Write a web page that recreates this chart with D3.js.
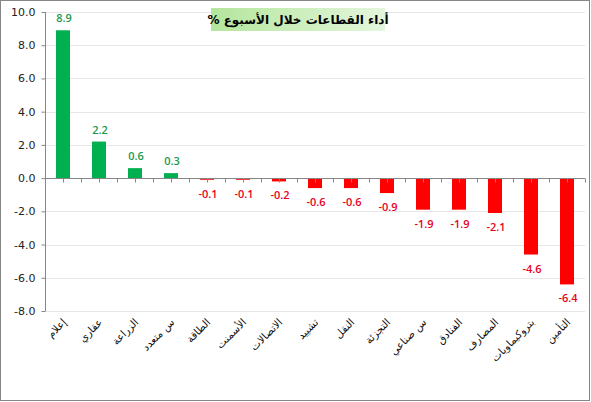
<!DOCTYPE html>
<html>
<head>
<meta charset="utf-8">
<script src="https://cdn.jsdelivr.net/npm/d3@7"></script>
<style>
  body { margin: 0; background: #fff; }
  svg { display: block; }
</style>
</head>
<body>
<svg id="chart" width="591" height="402"></svg>
<script>
var sectors = ["إعلام", "عقاري", "الزراعة", "س متعدد", "الطاقة", "الأسمنت", "الاتصالات", "تشييد",
  "النقل", "التجزئة", "س صناعي", "الفنادق", "المصارف", "بتروكيماويات", "التأمين"];
var changes = [8.9, 2.2, 0.6, 0.3, -0.1, -0.1, -0.2, -0.6, -0.6, -0.9, -1.9, -1.9, -2.1, -4.6, -6.4];
var yTicks = [10, 8, 6, 4, 2, 0, -2, -4, -6, -8];
var title = "أداء القطاعات خلال الأسبوع %";

var svg = d3.select("#chart"),
  margin = { top: 12, right: 6, bottom: 91, left: 45 },
  width = +svg.attr("width") - margin.left - margin.right,
  height = +svg.attr("height") - margin.top - margin.bottom;

// hyphen minus like the original, not the unicode minus
var fmt = function(d) { return d3.format(".1f")(d).replace("\u2212", "-"); };

// outer frame
svg.append("rect")
  .attr("x", 0.5).attr("y", 0.5)
  .attr("width", 589).attr("height", 400)
  .attr("fill", "#fff").attr("stroke", "#868686");

var x = d3.scaleBand().domain(sectors).range([0, width]),
  y = d3.scaleLinear().domain([-8, 10]).range([height, 0]);

var g = svg.append("g")
  .attr("transform", "translate(" + margin.left + "," + margin.top + ")");

// grid
g.selectAll(".grid")
  .data(yTicks)
  .enter().append("line")
  .attr("x1", 0).attr("x2", width)
  .attr("y1", function(d) { return Math.round(y(d)) + 0.5; })
  .attr("y2", function(d) { return Math.round(y(d)) + 0.5; })
  .attr("stroke", "#e6e6e6");

// y axis
var yAxis = d3.axisLeft(y).tickValues(yTicks).tickSize(4).tickFormat(fmt);
var ya = g.append("g").attr("transform", "translate(0.5,0)").call(yAxis);
ya.select(".domain").attr("stroke", "#868686").attr("d", "M0," + y(10) + "V" + y(-8));
ya.selectAll(".tick line").attr("stroke", "#868686");
ya.selectAll(".tick text")
  .attr("x", -10)
  .attr("fill", "#222")
  .style("font-family", "Tahoma, 'DejaVu Sans', sans-serif")
  .style("font-size", "11px");

// bars
g.selectAll(".bar")
  .data(changes)
  .enter().append("rect")
  .attr("x", function(d, i) { return x(sectors[i]) + x.bandwidth() / 2 - 7; })
  .attr("width", 14)
  .attr("y", function(d) { return y(Math.max(0, d)); })
  .attr("height", function(d) { return Math.max(1.5, Math.abs(y(d) - y(0))); })
  .attr("fill", function(d) { return d >= 0 ? "#00b050" : "#ff0000"; });

// zero line with ticks at centres and boundaries
var y0 = Math.round(y(0)) + 0.5;
g.append("line")
  .attr("x1", 0).attr("x2", width)
  .attr("y1", y0).attr("y2", y0)
  .attr("stroke", "#868686");
var tickXs = [];
sectors.forEach(function(s) {
  tickXs.push(x(s) + x.bandwidth() / 2);
  tickXs.push(x(s) + x.bandwidth());
});
g.selectAll(".xtick")
  .data(tickXs)
  .enter().append("line")
  .attr("x1", function(d) { return Math.round(d) + 0.5; })
  .attr("x2", function(d) { return Math.round(d) + 0.5; })
  .attr("y1", y0).attr("y2", y0 + 4)
  .attr("stroke", "#868686");

// value labels
g.selectAll(".val")
  .data(changes)
  .enter().append("text")
  .attr("x", function(d, i) { return x(sectors[i]) + x.bandwidth() / 2 + 1; })
  .attr("y", function(d) { return d >= 0 ? y(d) - 8 : y(d) + 18; })
  .attr("text-anchor", "middle")
  .attr("fill", function(d) { return d >= 0 ? "#1a9a4c" : "#e8001c"; })
  .style("font-family", "'Open Sans', 'DejaVu Sans', sans-serif")
  .style("font-size", "11px")
  .style("font-weight", "600")
  .text(fmt);

// category labels
g.selectAll(".cat")
  .data(sectors)
  .enter().append("text")
  .attr("transform", function(d) {
    return "translate(" + (x(d) + x.bandwidth() / 2 + 4) + "," + (height + 12) + ") rotate(-45)";
  })
  .attr("text-anchor", "end")
  .attr("fill", "#111")
  .style("font-family", "'DejaVu Sans', sans-serif")
  .style("font-size", "10.5px")
  .text(function(d) { return d; });

// title box
var grad = svg.append("defs").append("linearGradient").attr("id", "tg");
grad.append("stop").attr("offset", "0%").attr("stop-color", "#b4e69c");
grad.append("stop").attr("offset", "100%").attr("stop-color", "#e4f6dc");
svg.append("rect")
  .attr("x", 211).attr("y", 8)
  .attr("width", 174).attr("height", 23)
  .attr("fill", "url(#tg)");
svg.append("text")
  .attr("x", 298).attr("y", 24)
  .attr("text-anchor", "middle")
  .attr("direction", "rtl")
  .attr("fill", "#000")
  .style("font-family", "'DejaVu Sans', sans-serif")
  .style("font-size", "12px")
  .style("font-weight", "bold")
  .text(title);
</script>
</body>
</html>
